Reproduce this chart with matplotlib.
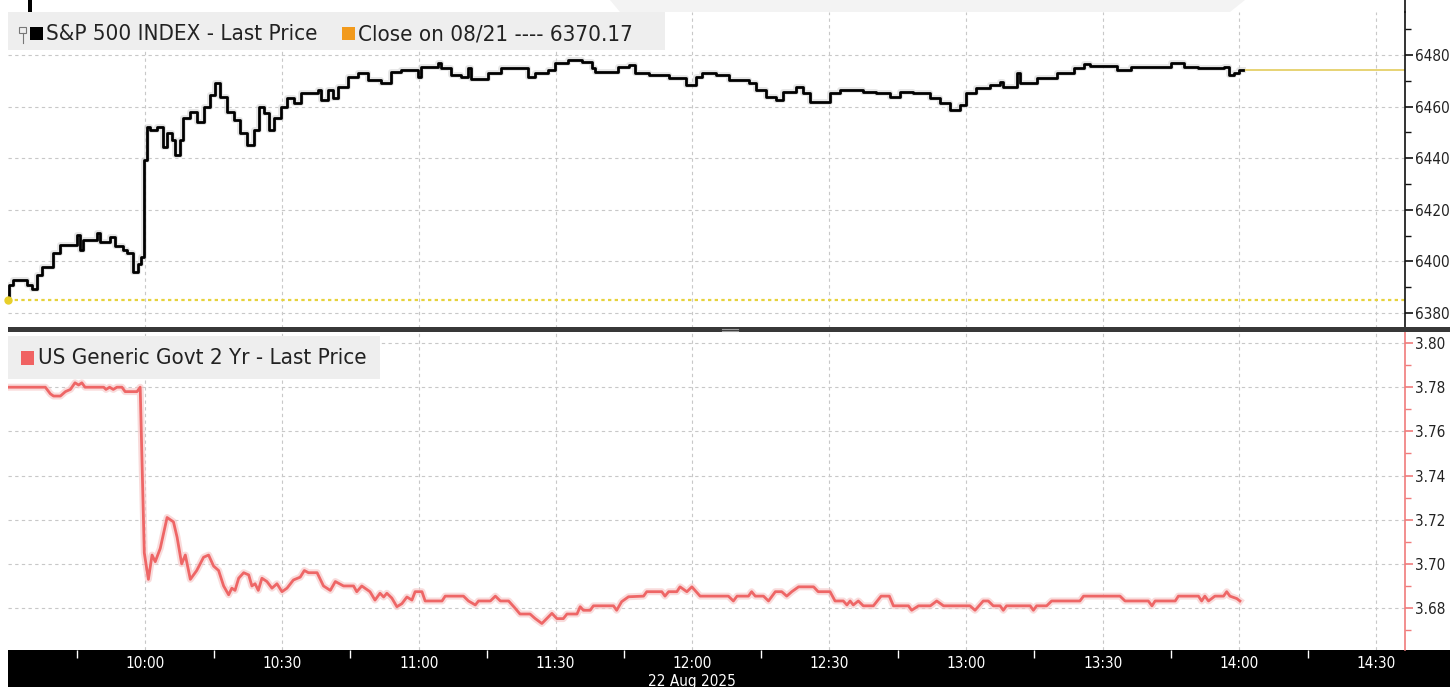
import matplotlib
matplotlib.use("Agg")
import matplotlib.pyplot as plt
from matplotlib.patches import Rectangle, Polygon
from matplotlib.lines import Line2D
from matplotlib.ticker import MultipleLocator, FixedLocator, FormatStrFormatter

# ===================== 全局配置 =====================
plt.rcParams['font.family'] = ['DejaVu Sans']
plt.rcParams['font.stretch'] = 'condensed'

W, H = 1450, 687

# ===================== 数据 =====================
# minutes after 09:30, 22 Aug 2025
spx_min = [0, 0.2, 1.0, 4.0, 5.1, 6.2, 7.3, 9.8, 11.3, 15.0, 15.7, 16.4, 19.4, 20.1,
           22.3, 23.4, 25.2, 26.0, 27.4, 28.5, 29.1, 29.8, 30.4, 31.1, 32.6, 34.0,
           34.8, 35.9, 36.6, 37.7, 38.4, 39.9, 41.4, 42.8, 44.3, 45.4, 46.5, 48.0,
           49.4, 50.9, 52.4, 53.8, 54.9, 56.0, 57.1, 58.3, 59.7, 61.2, 62.6, 64.1,
           67.8, 68.5, 70.0, 71.1, 72.2, 74.4, 76.6, 78.8, 81.7, 83.9, 86.1, 89.8,
           90.5, 94.2, 94.9, 97.1, 99.3, 100.8, 101.5, 105.2, 108.1, 114.0, 115.5,
           118.4, 119.8, 122.8, 125.7, 127.9, 128.7, 133.8, 136.0, 137.5, 140.4,
           144.8, 148.5, 150.7, 152.2, 155.1, 158.0, 162.4, 163.9, 166.1, 168.3,
           169.8, 172.7, 174.2, 175.7, 180.1, 182.3, 187.4, 190.3, 193.3, 195.5,
           198.4, 202.1, 204.3, 206.5, 208.7, 210.1, 212.3, 215.3, 217.5, 218.2,
           221.1, 221.9, 225.5, 229.9, 233.6, 235.8, 237.3, 243.1, 246.1, 254.9,
           257.8, 260.8, 266.6, 267.7, 268.8, 270.0, 270.8]
spx_val = [6385.0, 6390.8, 6392.8, 6390.8, 6389.5, 6394.7, 6397.8, 6403.3, 6406.4,
           6410.2, 6404.4, 6408.3, 6411.0, 6407.5, 6409.5, 6406.0, 6404.5, 6403.3,
           6396.0, 6399.0, 6401.7, 6439.3, 6452.0, 6451.0, 6452.0, 6444.3, 6449.8,
           6447.0, 6441.2, 6447.0, 6455.6, 6458.0, 6454.0, 6460.0, 6464.5, 6469.0,
           6463.7, 6458.0, 6455.0, 6449.8, 6445.0, 6451.0, 6460.0, 6457.5, 6451.0,
           6455.6, 6460.0, 6463.3, 6461.4, 6465.3, 6466.4, 6462.6, 6466.4, 6463.3,
           6467.6, 6471.5, 6473.0, 6470.3, 6469.0, 6473.4, 6474.2, 6471.5, 6475.3,
           6476.9, 6475.0, 6472.2, 6471.5, 6475.0, 6470.7, 6473.0, 6475.0, 6471.5,
           6473.0, 6474.2, 6476.9, 6478.0, 6477.3, 6475.0, 6473.4, 6475.3, 6476.1,
           6473.0, 6472.2, 6471.0, 6468.4, 6471.5, 6473.0, 6472.2, 6470.3, 6469.0,
           6466.4, 6463.7, 6462.6, 6465.7, 6467.6, 6465.3, 6461.8, 6465.3, 6466.4,
           6465.7, 6465.3, 6463.7, 6465.7, 6465.3, 6463.3, 6461.4, 6458.7, 6460.6,
           6465.3, 6467.2, 6468.4, 6469.5, 6467.6, 6473.0, 6469.0, 6471.0, 6473.0,
           6475.0, 6476.5, 6475.7, 6474.2, 6475.3, 6476.9, 6475.3, 6475.0, 6475.3,
           6472.2, 6473.0, 6474.2, 6474.2]

ust_min = [0, 8.1, 9.2, 9.9, 11.4, 12.5, 13.6, 14.6, 15.4, 16.1, 16.8, 20.9, 21.4,
           22.2, 23.0, 23.8, 24.9, 25.6, 28.2, 28.9, 29.8, 30.7, 31.5, 32.2, 33.3,
           34.8, 36.2, 37.0, 38.0, 38.8, 39.9, 41.3, 42.8, 43.9, 45.0, 46.1, 47.2,
           48.3, 49.0, 49.7, 50.5, 51.6, 52.7, 53.4, 54.1, 54.8, 55.6, 56.7, 57.8,
           58.9, 60.0, 61.1, 62.5, 64.0, 64.9, 65.8, 67.7, 69.1, 70.6, 71.7, 73.5,
           75.7, 76.4, 77.5, 79.3, 80.4, 81.5, 82.3, 83.0, 84.1, 85.2, 86.3, 87.4,
           88.5, 89.2, 90.7, 91.4, 95.1, 95.8, 99.8, 100.9, 102.4, 103.1, 105.7,
           106.8, 107.9, 109.7, 111.1, 112.2, 114.4, 115.5, 117.0, 118.1, 119.2,
           120.3, 121.7, 122.5, 124.7, 125.4, 126.1, 127.6, 128.3, 132.7, 133.4,
           134.5, 136.0, 139.3, 140.0, 143.3, 144.0, 144.8, 146.6, 147.3, 148.8,
           149.9, 151.7, 157.9, 159.0, 159.8, 162.3, 163.0, 163.8, 165.6, 166.7,
           168.2, 169.6, 170.7, 171.8, 173.3, 176.6, 177.6, 180.2, 181.3, 183.1,
           183.9, 184.6, 185.3, 186.4, 187.5, 189.7, 191.4, 193.2, 194.1, 197.4,
           198.1, 199.6, 202.2, 203.6, 205.1, 210.9, 212.0, 213.8, 214.9, 216.0,
           217.5, 218.2, 218.9, 224.1, 224.8, 225.5, 227.7, 228.8, 235.0, 235.8,
           243.8, 244.9, 250.0, 250.8, 251.5, 255.9, 256.6, 261.0, 261.7, 262.4,
           263.2, 264.6, 266.5, 267.2, 267.9, 269.4, 270.1]
ust_val = [3.780, 3.780, 3.777, 3.776, 3.776, 3.778, 3.779, 3.782, 3.781, 3.782,
           3.780, 3.780, 3.779, 3.780, 3.779, 3.780, 3.780, 3.778, 3.778, 3.780,
           3.705, 3.693, 3.704, 3.701, 3.707, 3.721, 3.719, 3.712, 3.700, 3.704,
           3.693, 3.697, 3.703, 3.704, 3.699, 3.697, 3.690, 3.686, 3.689, 3.688,
           3.6935, 3.696, 3.695, 3.690, 3.691, 3.688, 3.6935, 3.692, 3.689, 3.691,
           3.6874, 3.689, 3.6927, 3.694, 3.697, 3.696, 3.696, 3.690, 3.688, 3.692,
           3.690, 3.690, 3.6874, 3.690, 3.6874, 3.6836, 3.6867, 3.685, 3.6867,
           3.6845, 3.6806, 3.682, 3.685, 3.6836, 3.6874, 3.6874, 3.6832, 3.6832,
           3.6854, 3.6854, 3.6832, 3.6814, 3.6832, 3.6832, 3.6854, 3.6832, 3.6832,
           3.680, 3.6773, 3.6773, 3.6753, 3.673, 3.6753, 3.6776, 3.6752, 3.6752,
           3.6773, 3.6773, 3.6806, 3.679, 3.679, 3.681, 3.681, 3.679, 3.6829,
           3.6851, 3.6854, 3.6874, 3.6874, 3.6854, 3.6874, 3.6874, 3.6896, 3.6874,
           3.6896, 3.6854, 3.6854, 3.6832, 3.6854, 3.6854, 3.6874, 3.6854, 3.6854,
           3.6832, 3.6874, 3.6874, 3.6854, 3.6874, 3.6896, 3.6896, 3.6874, 3.6874,
           3.6832, 3.6832, 3.6814, 3.6832, 3.6814, 3.6832, 3.681, 3.681, 3.6854,
           3.6854, 3.681, 3.681, 3.679, 3.681, 3.681, 3.6832, 3.681, 3.681, 3.679,
           3.6832, 3.6832, 3.681, 3.681, 3.679, 3.681, 3.681, 3.679, 3.681, 3.681,
           3.6832, 3.6832, 3.6854, 3.6854, 3.6832, 3.6832, 3.681, 3.6832, 3.6832,
           3.6854, 3.6854, 3.6832, 3.6854, 3.6832, 3.6854, 3.6854, 3.6874, 3.6854,
           3.6843, 3.6832]

ref_level = 6385.0          # dotted yellow reference line
prev_close_text = "6370.17"
tick_min = [30, 60, 90, 120, 150, 180, 210, 240, 270, 300]
tick_labels = ["10:00", "10:30", "11:00", "11:30", "12:00", "12:30",
               "13:00", "13:30", "14:00", "14:30"]
date_label = "22 Aug 2025"

spx_title = "S&P 500 INDEX - Last Price"
close_title = f"Close on 08/21 ---- {prev_close_text}"
ust_title = "US Generic Govt 2 Yr - Last Price"


def fx(px):
    return px / W


def fy(py):
    return 1 - py / H


# ===================== 画布 =====================
fig = plt.figure(figsize=(W / 100, H / 100), dpi=100, facecolor='white')

x_left, x_right = 7.5, 1405
ax1 = fig.add_axes([fx(x_left), fy(328), fx(x_right - x_left), 316 / H])
ax2 = fig.add_axes([fx(x_left), fy(650), fx(x_right - x_left), 318 / H], sharex=ax1)

for ax in (ax1, ax2):
    ax.set_facecolor('white')
    for s in ('left', 'top', 'bottom'):
        ax.spines[s].set_visible(False)
    ax.yaxis.tick_right()
    ax.xaxis.set_major_locator(FixedLocator(tick_min))
    ax.grid(True, which='major', color='#c8c8c8', linestyle=(0, (3, 3)), linewidth=0.8)
    ax.set_axisbelow(True)

ax1.set_xlim(-0.2, 306.3)

# ---- top panel: S&P 500 ----
ax1.set_ylim(6374.2, 6496.7)
ax1.yaxis.set_major_locator(MultipleLocator(20))
ax1.yaxis.set_minor_locator(MultipleLocator(10))
ax1.spines['right'].set_color('#111111')
ax1.spines['right'].set_linewidth(1.2)
ax1.tick_params(axis='y', which='major', length=6, width=1.2, colors='#111111',
                labelsize=11, pad=1.5, labelcolor='#222222')
ax1.tick_params(axis='y', which='minor', length=4, width=1, colors='#111111')
ax1.tick_params(axis='x', which='both', length=0, labelbottom=False)

ax1.axhline(ref_level, color='#e6d23c', linestyle=(0, (1.5, 1.5)), linewidth=1.6, zorder=2)
ax1.plot([spx_min[0]], [ref_level], marker='o', markersize=5, color='#e8cf2a', zorder=4,
         clip_on=False)
ax1.step(spx_min, spx_val, where='post', color='#cfcfcf', linewidth=4.2, alpha=0.5, zorder=2)
ax1.step(spx_min, spx_val, where='post', color='black', linewidth=2.0, zorder=3)
ax1.plot([spx_min[-1], 306.3], [spx_val[-1], spx_val[-1]], color='#e3cc5c', linewidth=1.2, zorder=2)

# ---- bottom panel: US 2Y ----
ax2.set_ylim(3.661, 3.805)
ax2.yaxis.set_major_locator(MultipleLocator(0.02))
ax2.yaxis.set_minor_locator(MultipleLocator(0.01))
ax2.yaxis.set_major_formatter(FormatStrFormatter('%.2f'))
ax2.spines['right'].set_color('#f07c7c')
ax2.spines['right'].set_linewidth(1.2)
ax2.tick_params(axis='y', which='major', length=6, width=1.2, colors='#f07c7c',
                labelsize=11, pad=1.5, labelcolor='#222222')
ax2.tick_params(axis='y', which='minor', length=4, width=1, colors='#f07c7c')

ax2.plot(ust_min, ust_val, color='#f6c4c4', linewidth=5, alpha=0.6, zorder=2)
ax2.plot(ust_min, ust_val, color='#ee6666', linewidth=2.0, zorder=3)

# x axis labels on black band
ax2.set_xticks(tick_min)
ax2.set_xticklabels(tick_labels)
ax2.xaxis.set_minor_locator(FixedLocator([m - 15 for m in tick_min]))
ax2.tick_params(axis='x', which='major', length=0, pad=4, labelsize=11, labelcolor='white')
ax2.tick_params(axis='x', which='minor', length=6, width=1, colors='white', direction='out')
ax2.text(150, -0.1, date_label, transform=ax2.get_xaxis_transform(), ha='center',
         va='center', fontsize=11, color='white', clip_on=False)

# ===================== 装饰 =====================
# black time band (behind the axes so the white labels stay visible)
fig.patches.append(Rectangle((fx(x_left), 0), 1, fy(650), transform=fig.transFigure,
                             facecolor='black', edgecolor='none', zorder=-5))
# panel separator
fig.patches.append(Rectangle((fx(x_left), fy(332)), 1, 5 / H, transform=fig.transFigure,
                             facecolor='#383838', edgecolor='none', zorder=5))
fig.lines.append(Line2D([fx(722), fx(738)], [fy(329), fy(329)], transform=fig.transFigure,
                        color='#9a9a9a', linewidth=0.8, zorder=6))
fig.lines.append(Line2D([fx(722), fx(738)], [fy(331), fy(331)], transform=fig.transFigure,
                        color='#9a9a9a', linewidth=0.8, zorder=6))
# top spine continues to the image edge
fig.lines.append(Line2D([fx(x_right), fx(x_right)], [fy(12), 1], transform=fig.transFigure,
                        color='#111111', linewidth=1.2, zorder=6))
# crop artefacts at the very top
fig.patches.append(Rectangle((fx(28), fy(12)), 4 / W, 12 / H, transform=fig.transFigure,
                             facecolor='black', edgecolor='none'))
fig.patches.append(Polygon([(fx(610), 1), (fx(1245), 1), (fx(1230), fy(12)), (fx(620), fy(12))],
                           closed=True, transform=fig.transFigure, facecolor='#f3f3f3',
                           edgecolor='none'))

# legend boxes
fig.patches.append(Rectangle((fx(x_left), fy(50)), fx(665 - x_left), 38 / H,
                             transform=fig.transFigure, facecolor='#eeeeee', edgecolor='none',
                             zorder=7))
fig.patches.append(Rectangle((fx(x_left), fy(379)), fx(380 - x_left), 43 / H,
                             transform=fig.transFigure, facecolor='#eeeeee', edgecolor='none',
                             zorder=7))

# pin icon
fig.patches.append(Rectangle((fx(19), fy(33)), 7 / W, 6 / H, transform=fig.transFigure,
                             facecolor='none', edgecolor='#777777', linewidth=0.8, zorder=8))
fig.lines.append(Line2D([fx(22.5), fx(22.5)], [fy(33), fy(43)], transform=fig.transFigure,
                        color='#777777', linewidth=0.8, zorder=8))
# legend squares
fig.patches.append(Rectangle((fx(30), fy(40)), 13 / W, 13 / H, transform=fig.transFigure,
                             facecolor='black', edgecolor='none', zorder=8))
fig.patches.append(Rectangle((fx(342), fy(40)), 13 / W, 13 / H, transform=fig.transFigure,
                             facecolor='#f29a1c', edgecolor='none', zorder=8))
fig.patches.append(Rectangle((fx(21), fy(365)), 13 / W, 14 / H, transform=fig.transFigure,
                             facecolor='#f06262', edgecolor='none', zorder=8))

fig.text(fx(46), fy(34), spx_title, va='center', ha='left', fontsize=16, color='#222222', zorder=9)
fig.text(fx(358), fy(34), close_title, va='center', ha='left', fontsize=16, color='#222222', zorder=9)
fig.text(fx(38), fy(358), ust_title, va='center', ha='left', fontsize=16, color='#222222', zorder=9)

fig.savefig("out.png", dpi=100, facecolor='white')
